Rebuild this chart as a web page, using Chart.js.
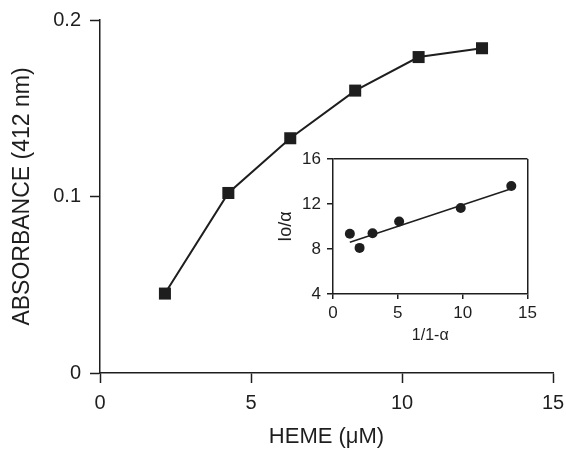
<!DOCTYPE html>
<html>
<head>
<meta charset="utf-8">
<script src="https://cdn.jsdelivr.net/npm/chart.js@4/dist/chart.umd.min.js"></script>
<style>
  html, body { margin: 0; padding: 0; background: #fff; }
  #wrap { position: relative; width: 566px; height: 453px; }
  #mainChart { position: absolute; left: 0; top: 0; }
  #insetChart { position: absolute; left: 270px; top: 140px; }
</style>
</head>
<body>
<div id="wrap">
  <canvas id="mainChart" width="566" height="453"></canvas>
  <canvas id="insetChart" width="270" height="210"></canvas>
</div>
<script>
// main plot: heme concentration vs absorbance
const hemeX = [2.15, 4.25, 6.3, 8.45, 10.55, 12.65];
const absorbance = [0.045, 0.102, 0.133, 0.160, 0.179, 0.184];

// inset: double reciprocal style plot
const insetX = [1.3, 2.05, 3.05, 5.1, 9.85, 13.75];
const insetY = [9.35, 8.1, 9.4, 10.45, 11.65, 13.6];
const fitX = [1.3, 13.75];
const fitY = [8.6, 13.35];

const ink = '#1e1e1e';
const fam = '"Liberation Sans", Arial, Helvetica, sans-serif';

function pts(xs, ys) {
  return xs.map((x, i) => ({ x: x, y: ys[i] }));
}

// keep label overhang from pushing the plot area in, layout padding decides
function noOverhang(s) {
  s.paddingLeft = 0; s.paddingRight = 0; s.paddingTop = 0; s.paddingBottom = 0;
}

new Chart(document.getElementById('mainChart'), {
  type: 'scatter',
  data: {
    datasets: [{
      data: pts(hemeX, absorbance),
      showLine: true,
      borderColor: ink,
      borderWidth: 2,
      pointStyle: 'rect',
      pointRadius: 8.5,
      backgroundColor: ink,
      pointBorderWidth: 0
    }]
  },
  options: {
    responsive: false,
    animation: false,
    layout: { padding: { top: 20, right: 13, left: 0, bottom: 0 } },
    plugins: { legend: { display: false }, tooltip: { enabled: false } },
    scales: {
      x: {
        type: 'linear', min: 0, max: 15,
        ticks: { stepSize: 5, color: ink, padding: 8, font: { family: fam, size: 20 } },
        grid: { display: true, drawOnChartArea: false, drawTicks: true, tickLength: 10, tickColor: ink, tickWidth: 1.5 },
        border: { display: true, color: ink, width: 1.5 },
        title: { display: true, text: 'HEME (\u03bcM)', color: ink, font: { family: fam, size: 22 }, padding: { top: 0, bottom: 3 } },
        afterFit: s => { s.height = 80; noOverhang(s); }
      },
      y: {
        min: 0, max: 0.2,
        ticks: {
          stepSize: 0.1, color: ink, padding: 9, font: { family: fam, size: 20 },
          callback: v => v === 0 ? '0' : v.toFixed(1)
        },
        grid: { display: true, drawOnChartArea: false, drawTicks: true, tickLength: 10, tickColor: ink, tickWidth: 1.5 },
        border: { display: true, color: ink, width: 1.5 },
        title: { display: true, text: 'ABSORBANCE (412 nm)', color: ink, font: { family: fam, size: 23 }, padding: { top: 9, bottom: 0 } },
        afterFit: s => { s.width = 100; noOverhang(s); }
      }
    }
  }
});

// only the last grid line is drawn, which closes the inset box on top and right
const edgeOnly = (ctx) => ctx.index === ctx.chart.scales[ctx.scale.id].ticks.length - 1 ? ink : 'rgba(0,0,0,0)';

new Chart(document.getElementById('insetChart'), {
  type: 'scatter',
  data: {
    datasets: [{
      data: pts(insetX, insetY),
      showLine: false,
      pointStyle: 'circle',
      pointRadius: 5,
      backgroundColor: ink,
      pointBorderWidth: 0
    }, {
      data: pts(fitX, fitY),
      showLine: true,
      borderColor: ink,
      borderWidth: 1.5,
      pointRadius: 0
    }]
  },
  options: {
    responsive: false,
    animation: false,
    layout: { padding: { top: 19, right: 12.5, left: 0, bottom: 0 } },
    plugins: { legend: { display: false }, tooltip: { enabled: false } },
    scales: {
      x: {
        type: 'linear', min: 0, max: 15,
        ticks: { stepSize: 5, color: ink, padding: 4, font: { family: fam, size: 17 } },
        grid: { display: true, drawOnChartArea: true, color: edgeOnly, lineWidth: 1.5, drawTicks: true, tickLength: 5, tickColor: ink, tickWidth: 1.5 },
        border: { display: true, color: ink, width: 1.5 },
        title: { display: true, text: '1/1-\u03b1', color: ink, font: { family: fam, size: 16 }, padding: { top: 0, bottom: 5 } },
        afterFit: s => { s.height = 56; noOverhang(s); }
      },
      y: {
        min: 4, max: 16,
        ticks: { stepSize: 4, color: ink, padding: 6, font: { family: fam, size: 17 } },
        grid: { display: true, drawOnChartArea: true, color: edgeOnly, lineWidth: 1.5, drawTicks: true, tickLength: 6, tickColor: ink, tickWidth: 1.5 },
        border: { display: true, color: ink, width: 1.5 },
        title: { display: true, text: 'Io/\u03b1', color: ink, font: { family: fam, size: 18 }, padding: { top: 5, bottom: 0 } },
        afterFit: s => { s.width = 63; noOverhang(s); }
      }
    }
  }
});
</script>
</body>
</html>
